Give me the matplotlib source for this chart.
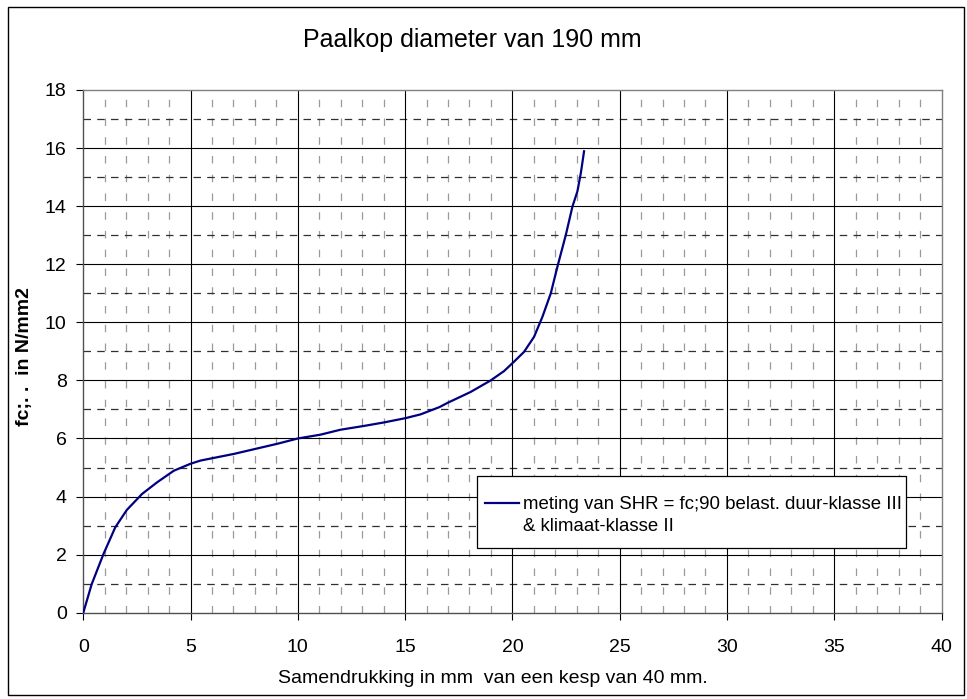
import matplotlib
matplotlib.use("Agg")
import matplotlib.pyplot as plt
from matplotlib.patches import Rectangle
from matplotlib.lines import Line2D

# Compression (mm) vs stress fc (N/mm2)
compression_mm = [0, 0.39, 0.94, 1.49, 2.03, 2.74, 3.44, 4.22, 5.0, 5.47, 7.03, 9.06,
                  10.0, 11.05, 11.98, 13.07, 14.0, 15.02, 15.72, 16.6, 16.96, 18.05,
                  18.99, 19.61, 20.07, 20.54, 21.01, 21.4, 21.79, 22.1, 22.49, 22.8,
                  23.03, 23.19, 23.34]
stress_fc = [0, 0.98, 2.02, 2.94, 3.54, 4.09, 4.49, 4.89, 5.13, 5.24, 5.47, 5.82,
             6.0, 6.13, 6.3, 6.43, 6.55, 6.7, 6.83, 7.08, 7.22, 7.6,
             8.0, 8.32, 8.64, 8.98, 9.5, 10.19, 11.0, 11.92, 13.01, 13.99,
             14.51, 15.14, 15.89]

series_label = "meting van SHR = fc;90 belast. duur-klasse III"
series_label_cont = "& klimaat-klasse II"
title = "Paalkop diameter van 190 mm"
xlabel = "Samendrukking in mm  van een kesp van 40 mm."
ylabel = "fc;. .  in N/mm2"
x_ticks = [0, 5, 10, 15, 20, 25, 30, 35, 40]
y_ticks = [0, 2, 4, 6, 8, 10, 12, 14, 16, 18]

plt.rcParams['font.family'] = ['Liberation Sans', 'DejaVu Sans']

W, H = 967, 699
AX_L, AX_R, AX_T, AX_B = 83.3, 941.5, 90.0, 612.7
fig = plt.figure(figsize=(W / 100, H / 100), dpi=100)
ax = fig.add_axes([AX_L / W, 1 - AX_B / H, (AX_R - AX_L) / W, (AX_B - AX_T) / H])


def ax_frac(px, py):
    """Pixel position on the canvas -> axes fraction."""
    return (px - AX_L) / (AX_R - AX_L), (AX_B - py) / (AX_B - AX_T)


# outer chart frame
fig.patches.append(Rectangle((8 / W, 1 - 695 / H), (964 - 8) / W, (695 - 7) / H,
                             transform=fig.transFigure, fill=False,
                             edgecolor='black', linewidth=1.0))

ax.set_xlim(0, 40)
ax.set_ylim(0, 18)

# minor grid lines
for xv in range(1, 40):
    if xv % 5:
        ax.axvline(xv, color='#9a9a9a', linewidth=0.9, dashes=(6, 9), zorder=1)
for yv in range(1, 18, 2):
    ax.axhline(yv, color='#303030', linewidth=0.9, dashes=(6, 5), zorder=1)
# major grid lines
for xv in x_ticks[1:-1]:
    ax.axvline(xv, color='black', linewidth=0.8, zorder=1)
for yv in y_ticks[1:-1]:
    ax.axhline(yv, color='black', linewidth=0.8, zorder=1)

line, = ax.plot(compression_mm, stress_fc, color='#000080', linewidth=1.6, zorder=3)

ax.set_xticks(x_ticks)
ax.set_yticks(y_ticks)
ax.tick_params(axis='both', direction='out', length=5, width=0.8, labelsize=14,
               colors='black')
ax.tick_params(axis='y', pad=7)
ax.tick_params(axis='x', pad=14)
for side in ('top', 'right'):
    ax.spines[side].set_color('#808080')
for side in ('left', 'bottom'):
    ax.spines[side].set_color('#505050')
for sp in ax.spines.values():
    sp.set_linewidth(1.0)

fig.text(472.5 / W, 1 - 47 / H, title, fontsize=18, ha='center', va='baseline')
fig.text(278 / W, 1 - 683 / H, xlabel, fontsize=14, ha='left', va='baseline')
fig.text(25 / W, 1 - 357 / H, ylabel, fontsize=14, fontweight='bold',
         rotation=90, ha='center', va='center')

# legend box
bx0, by0 = ax_frac(477, 548)
bx1, by1 = ax_frac(906, 476)
ax.add_patch(Rectangle((bx0, by0), bx1 - bx0, by1 - by0, transform=ax.transAxes,
                       facecolor='white', edgecolor='black', linewidth=0.9,
                       zorder=5))

blank = Line2D([], [], color='none')
lx, ly = ax_frac(485, 496)
leg = ax.legend([line, blank], [series_label, series_label_cont],
                loc='upper left', bbox_to_anchor=(lx, ly), fontsize=13.4,
                frameon=False, borderaxespad=0, borderpad=0,
                handlelength=1.85, handletextpad=0.18, labelspacing=0.28)
leg.set_zorder(6)

fig.savefig("out.png", dpi=100)
